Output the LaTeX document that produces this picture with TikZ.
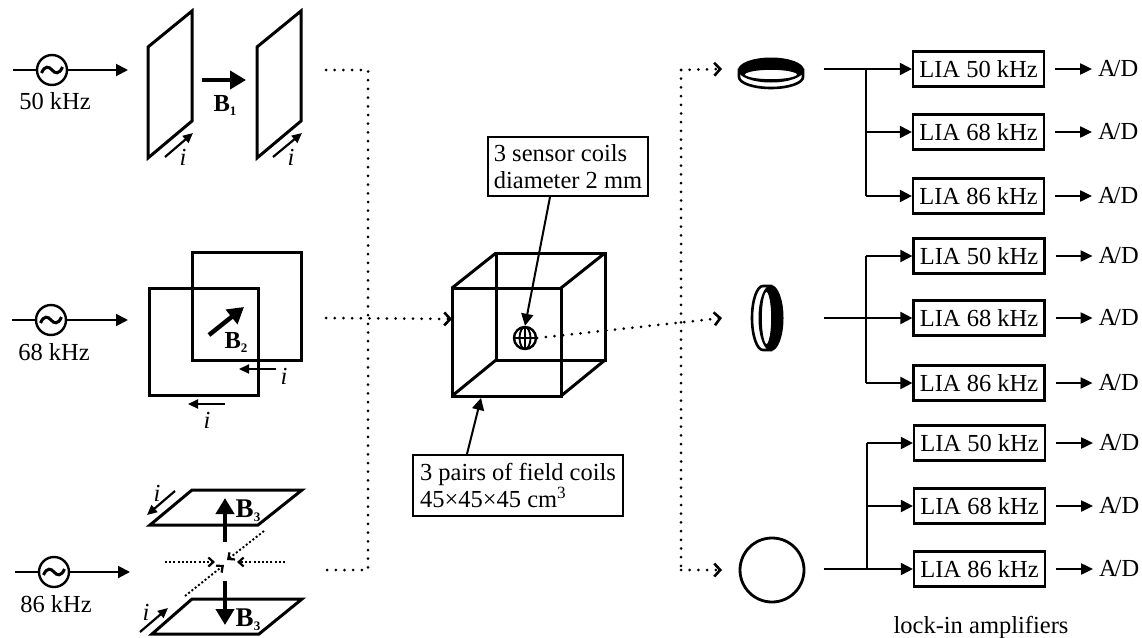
\documentclass[tikz,border=0pt]{standalone}
\usepackage{fontspec}
\setmainfont{Liberation Serif}
\usetikzlibrary{arrows.meta,calc}
\tikzset{
  lab/.style={inner sep=0pt,font=\fontsize{24.5}{27}\selectfont},
  biglab/.style={inner sep=0pt,font=\fontsize{27}{27}\selectfont},
  coil/.style={draw,line width=3pt,line join=miter},
  thin wire/.style={draw,line width=2pt},
  feed/.style={thin wire,-{Triangle[length=12pt,width=12pt]}},
  small feed/.style={draw,line width=2.2pt,-{Triangle[length=10pt,width=9pt]}},
  field/.style={draw,line width=4.5pt,-{Triangle[length=16pt,width=18pt]}},
  dots/.style={draw,line width=3pt,line cap=round,dash pattern=on 0pt off 8.7pt},
  fine dots/.style={draw,line width=1.9pt,dash pattern=on 2pt off 2.2pt},
  dothead/.style={-{Straight Barb[length=6pt,width=13pt,line width=2.6pt]}},
  finehead/.style={-{Straight Barb[length=5pt,width=9pt,line width=2.2pt]}},
  source/.style={circle,draw,line width=2.4pt,minimum size=30pt,inner sep=0pt,fill=white},
  lia/.style={draw,line width=2.2pt,minimum width=131pt,minimum height=35pt,inner sep=0pt,font=\fontsize{24.5}{27}\selectfont},
  note/.style={draw,line width=2pt,inner sep=0pt,font=\fontsize{24.5}{27}\selectfont,align=left}
}
\newcommand{\wave}[1]{\draw[line width=3pt] ($(#1.center)+(-10.5,3)$) .. controls ($(#1.center)+(-7,-5)$) and ($(#1.center)+(-3,-3.5)$) .. (#1.center) .. controls ($(#1.center)+(3,3.5)$) and ($(#1.center)+(7,5)$) .. ($(#1.center)+(10.5,-3)$);}
\newcommand{\bsub}[2]{\textbf{#1}\raisebox{-4pt}{\fontsize{13}{13}\selectfont\textbf{#2}}}
\begin{document}
\begin{tikzpicture}[x=1pt,y=-1pt]
\useasboundingbox (0,0) rectangle (1142,637);
% sources
\foreach \n/\sx/\sy/\ex/\lx/\ly/\f in {a/13/70/128/55/101/50,b/12/320/128/54/352/68,c/15/572/130/56/604/86}{
  \coordinate (s\n) at (\sx,\sy);
  \coordinate (e\n) at (\ex,\sy);
  \node[source] (o\n) at ({\sx+39},\sy) {};
  \wave{o\n}
  \draw[thin wire] (s\n) -- (o\n.west);
  \draw[feed] (o\n.east) -- (e\n);
  \node[lab] (f\n) at (\lx,\ly) {\f{} kHz};
}
% panel 1
\draw[coil] (148,47) -- (192,11) -- (192,121) -- (148,158) -- cycle;
\draw[coil] (257,47) -- (301,11) -- (301,121) -- (257,158) -- cycle;
\coordinate (b1s) at (202,80); \coordinate (b1e) at (246,80);
\draw[field] (b1s) -- (b1e);
\node[lab] (b1) at (225,105) {\bsub{B}{1}};
\coordinate (i1s) at (165,157); \coordinate (i1e) at (193,133);
\coordinate (i2s) at (273,157); \coordinate (i2e) at (302,133);
\draw[small feed] (i1s) -- (i1e);
\draw[small feed] (i2s) -- (i2e);
\node[lab] (i1) at (183,157) {\textit{i}};
\node[lab] (i2) at (291,157) {\textit{i}};
% panel 2
\draw[coil] (192,252) rectangle (301,360);
\draw[coil] (149,288) rectangle (258,395);
\coordinate (b2s) at (209,335); \coordinate (b2e) at (244,307);
\draw[field] (b2s) -- (b2e);
\node[lab] (b2) at (236,342) {\bsub{B}{2}};
\coordinate (i3s) at (276,369); \coordinate (i3e) at (239,369);
\coordinate (i4s) at (225,404); \coordinate (i4e) at (188,404);
\draw[small feed] (i3s) -- (i3e);
\draw[small feed] (i4s) -- (i4e);
\node[lab] (i3) at (284,376) {\textit{i}};
\node[lab] (i4) at (207,420) {\textit{i}};
% panel 3
\draw[coil] (150,525) -- (258,525) -- (302,490) -- (192,490) -- cycle;
\draw[coil] (152,634) -- (259,634) -- (302,599) -- (192,599) -- cycle;
\coordinate (b3s) at (225,542); \coordinate (b3e) at (225,498);
\coordinate (b4s) at (225,581); \coordinate (b4e) at (225,625);
\draw[field] (b3s) -- (b3e);
\draw[field] (b4s) -- (b4e);
\node[biglab] (b3) at (248,511) {\bsub{B}{3}};
\node[biglab] (b4) at (248,620) {\bsub{B}{3}};
\coordinate (i5s) at (175,491); \coordinate (i5e) at (147,515);
\coordinate (i6s) at (140,632); \coordinate (i6e) at (168,608);
\draw[small feed] (i5s) -- (i5e);
\draw[small feed] (i6s) -- (i6e);
\node[lab] (i5) at (157,493) {\textit{i}};
\node[lab] (i6) at (146,612) {\textit{i}};
\coordinate (d1s) at (165,562); \coordinate (d1e) at (215,562);
\coordinate (d2s) at (285,562); \coordinate (d2e) at (237,562);
\coordinate (d3s) at (264,531); \coordinate (d3e) at (227,560);
\coordinate (d4s) at (185,596); \coordinate (d4e) at (224,565);
\foreach \a/\b in {d1s/d1e,d2s/d2e,d3s/d3e,d4s/d4e}{\draw[fine dots,finehead] (\a) -- (\b);}
% cube
\coordinate (fa) at (452,288); \coordinate (fb) at (561,288);
\coordinate (fc) at (561,396); \coordinate (fd) at (452,396);
\coordinate (ba) at (496,253); \coordinate (bb) at (605,253);
\coordinate (bc) at (605,360); \coordinate (bd) at (496,360);
\draw[coil] (ba) -- (bb) -- (bc) -- (bd) -- cycle;
\draw[coil] (fa) -- (ba) (fb) -- (bb) (fc) -- (bc) (fd) -- (bd);
\draw[coil] (fa) -- (fb) -- (fc) -- (fd) -- cycle;
% sensor
\node[circle,draw,line width=2.4pt,minimum size=22pt,inner sep=0pt] (sensor) at (525,338) {};
\draw[line width=1.9pt] (sensor.west) -- (sensor.east) (sensor.north) -- (sensor.south);
\draw[line width=1.9pt] (sensor.center) ellipse [x radius=5.5pt,y radius=11pt];
\node[note,minimum width=160pt,minimum height=59pt] (top) at (568,166.5) {3 sensor coils\\diameter 2 mm};
\draw[thin wire,-{Triangle[length=12pt,width=12pt]}] ($(top.south)+(-18,0)$) -- (sensor.north);
\node[note,minimum width=210pt,minimum height=61pt] (bot) at (518,485.5) {3 pairs of field coils\\45×45×45 cm\textsuperscript{3}};
\coordinate (cubebot) at (481,398);
\draw[thin wire,-{Triangle[length=12pt,width=12pt]}] ($(bot.north)+(-51,0)$) -- (cubebot);
% dotted routes
\coordinate (l1) at (326,70); \coordinate (l1c) at (368,70);
\coordinate (l2) at (326,318);
\coordinate (l3) at (327,570); \coordinate (l3c) at (368,570);
\draw[dots] (l1) -- (l1c) -- (l3c) -- (l3);
\coordinate (cubein) at (452,319);
\draw[dots,dothead] (l2) -- (cubein);
\coordinate (tapt) at (681,70); \coordinate (tapb) at (681,570);
\coordinate (ct) at (722,69); \coordinate (cm) at (722,318); \coordinate (cb) at (722,570);
\draw[dots,dothead] (tapt) -- (ct);
\draw[dots] (tapt) -- (tapb);
\draw[dots,dothead] (tapb) -- (cb);
\draw[dots,dothead] (sensor.east) -- (cm);
% pick-up coils
\draw[line width=2.6pt,fill=white] (739,70) -- (739,77) arc [start angle=180,end angle=360,x radius=32pt,y radius=11pt] -- (803,70) -- cycle;
\fill (771,70) ellipse [x radius=33pt,y radius=12.5pt];
\draw[line width=1.6pt,fill=white] (771,74.5) ellipse [x radius=27pt,y radius=5.5pt];
\draw[line width=2.6pt,fill=white] (771,286) -- (763,286) arc [start angle=90,end angle=270,x radius=11pt,y radius=32pt] -- (771,350) -- cycle;
\fill (771,318) ellipse [x radius=12.5pt,y radius=33pt];
\draw[line width=1.6pt,fill=white] (766.5,318) ellipse [x radius=5.5pt,y radius=27pt];
\node[circle,draw,line width=2.8pt,minimum size=64pt,inner sep=0pt] (coil3) at (772,570) {};
% LIA rows
\foreach \g/\ys/\yl/\ye/\bx/\sy/\tx in {
  p/69/132/196/978.5/69/866,
  q/256/318/383/979/318/866,
  r/443/506/569/979.5/569/867}{
  \coordinate (\g in) at (823.5,\sy);
  \coordinate (\g t1) at (\tx,\ys);
  \coordinate (\g t2) at (\tx,\yl);
  \coordinate (\g t3) at (\tx,\ye);
  \node[lia] (\g a) at (\bx,\ys) {LIA 50 kHz};
  \node[lia] (\g b) at (\bx,\yl) {LIA 68 kHz};
  \node[lia] (\g c) at (\bx,\ye) {LIA 86 kHz};
  \draw[thin wire] (\g t1) -- (\g t3);
  \draw[thin wire] (\g in) -- (\tx,\sy);
  \draw[feed] (\g t1) -- (\g a.west);
  \draw[feed] (\g t2) -- (\g b.west);
  \draw[feed] (\g t3) -- (\g c.west);
  \foreach \k in {a,b,c}{
    \node[lab] (\g\k d) at ($(\g\k.east)+(73,0)$) {A\kern-2pt/D};
    \draw[thin wire,-{Triangle[length=12pt,width=11pt]}] ($(\g\k.east)+(10,0)$) -- ($(\g\k.east)+(47,0)$);
  }
}
\node[lab] (lock) at (981,627) {lock-in amplifiers};
\end{tikzpicture}
\end{document}
